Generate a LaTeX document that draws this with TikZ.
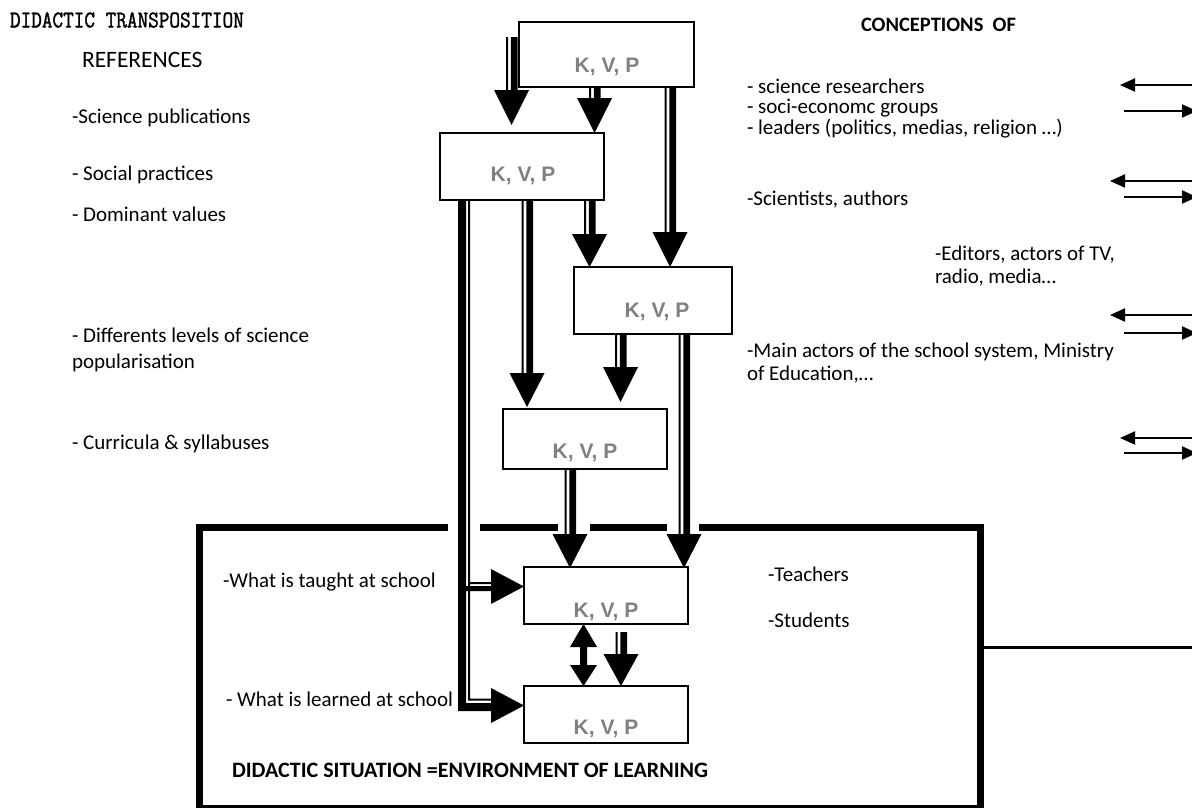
\documentclass[tikz,border=0pt]{standalone}
\usepackage{fontspec}
\setmainfont{Carlito}
\newfontfamily\kvpfont{Liberation Sans}
\newfontfamily\monob[FakeBold=1.4,FakeStretch=0.86]{Latin Modern Mono}
\usetikzlibrary{arrows.meta,calc}
\definecolor{kvpgray}{RGB}{128,128,128}
% striped down arrow: #1 start, #2 tip, #3 head length
\newcommand\sdown[3]{%
  \fill let \p1=(#1), \p2=(#2) in
    (\x2-5.5pt,\y1) rectangle (\x2-3.5pt,\y2+#3pt)
    (\x2-0.7pt,\y1) rectangle (\x2+6pt,\y2+#3pt)
    (\x2-17.5pt,\y2+#3pt) -- (\x2+17.5pt,\y2+#3pt) -- (\x2,\y2) -- cycle;}
\begin{document}
\begin{tikzpicture}[x=1pt,y=-1pt,
  every node/.style={inner sep=0pt,outer sep=0pt},
  body/.style={font=\fontsize{21}{24}\selectfont, anchor=west, align=left},
  hdr/.style={font=\fontsize{21}{24}\selectfont\bfseries, anchor=west},
  box/.style={draw, line width=1.8pt, fill=white},
  kvp/.style={font=\kvpfont\fontsize{21}{24}\selectfont\bfseries, text=kvpgray},
  frame/.style={line width=7pt},
  rarr/.style={line width=2pt, -{Triangle[length=15pt,width=13pt]}}
]
\useasboundingbox (0,0) rectangle (1192,807);

% frame of the didactic situation
\draw[frame] (199.5,524) -- (199.5,812);
\draw[frame] (980.5,524) -- (980.5,812);
\draw[frame] (196,808) -- (984,808);
\draw[frame] (196,527.5) -- (448,527.5);
\draw[frame] (480,527.5) -- (558,527.5);
\draw[frame] (590,527.5) -- (667,527.5);
\draw[frame] (699,527.5) -- (984,527.5);
\draw[line width=3pt] (984,647) -- (1192,647);

% boxes
\node[box, minimum width=175pt, minimum height=65pt] (b1) at (606.5,54.5) {};
\node[box, minimum width=164pt, minimum height=67pt] (b2) at (522,166.5) {};
\node[box, minimum width=158pt, minimum height=67pt] (b3) at (653,300.5) {};
\node[box, minimum width=164pt, minimum height=60pt] (b4) at (585,439) {};
\node[box, minimum width=164pt, minimum height=57pt] (b5) at (606,595.5) {};
\node[box, minimum width=164pt, minimum height=57pt] (b6) at (606,714.5) {};
\node[kvp] (k1) at (607,67) {K, V, P};
\node[kvp] (k2) at (523,176) {K, V, P};
\node[kvp] (k3) at (657,312) {K, V, P};
\node[kvp] (k4) at (585,453) {K, V, P};
\node[kvp] (k5) at (606,612) {K, V, P};
\node[kvp] (k6) at (606,729) {K, V, P};

% striped arrows
\coordinate (a0) at (511.5,37);
\coordinate (a0t) at (511.5,125);
\sdown{a0}{a0t}{35}
\sdown{b1.south}{594.5,0 |- b2.north}{35}
\sdown{b1.south}{670,0 |- b3.north}{35}
\sdown{b2.south}{589.5,0 |- b3.north}{33}
\coordinate (e0) at (527,407);
\sdown{b2.south}{e0}{34}
\coordinate (f0) at (620.5,402);
\sdown{b3.south}{f0}{35}
\coordinate (g0) at (684,568);
\sdown{b3.south}{g0}{34}
\coordinate (h0) at (570,568);
\sdown{b4.south}{h0}{34}
\coordinate (i0) at (621,632);
\sdown{i0}{621,0 |- b6.north}{32}

% long left arrow with two branches
\fill let \p1=(b2.south), \p2=(b5.west), \p3=(b6.west) in
  (458,\y1) rectangle (466,711)
  (468,\y1) rectangle (470,700.5)
  (462,586) rectangle (492,591)
  (468,582) rectangle (492,584)
  (458,703) rectangle (492,711)
  (468,698.5) rectangle (492,700.5)
  (491,569) -- (491,604) -- (\x2,586.5) -- cycle
  (491,688) -- (491,723) -- (\x3,705.5) -- cycle;

% double arrow between b5 and b6
\fill let \p1=(b5.south), \p2=(b6.north) in
  (583.5,\y1) -- (597,647) -- (587,647) -- (587,665) -- (597,665)
  -- (583.5,\y2) -- (570,665) -- (580,665) -- (580,647) -- (570,647) -- cycle;

% right-hand exchange arrows
\coordinate (r1a) at (1200,85);  \coordinate (r1b) at (1120,85);
\coordinate (r1c) at (1124,111); \coordinate (r1d) at (1197,111);
\coordinate (r2a) at (1200,181); \coordinate (r2b) at (1110,181);
\coordinate (r2c) at (1124,197); \coordinate (r2d) at (1197,197);
\coordinate (r3a) at (1200,315); \coordinate (r3b) at (1110,315);
\coordinate (r3c) at (1124,333); \coordinate (r3d) at (1197,333);
\coordinate (r4a) at (1200,438); \coordinate (r4b) at (1120,438);
\coordinate (r4c) at (1124,453); \coordinate (r4d) at (1197,453);
\foreach \i in {1,2,3,4}{
  \draw[rarr] (r\i a) -- (r\i b);
  \draw[rarr] (r\i c) -- (r\i d);
}

% texts
\node[anchor=west, font=\monob\fontsize{24}{26}\selectfont] (t0) at (10,20) {DIDACTIC TRANSPOSITION};
\node[body, font=\fontsize{23.5}{26}\selectfont] (t1) at (82,60) {REFERENCES};
\node[body] (t2) at (72,118) {-Science publications};
\node[body] (t3) at (72,175) {- Social practices};
\node[body] (t4) at (72,214) {- Dominant values};
\node[body, font=\fontsize{21}{26}\selectfont] (t5) at (72,350) {- Differents levels of science\\popularisation};
\node[body] (t6) at (72,444) {- Curricula \& syllabuses};
\node[hdr, font=\fontsize{20.5}{24}\selectfont\bfseries] (t7) at (861,25) {CONCEPTIONS~~OF};
\node[body] (t8) at (747,86) {- science researchers};
\node[body] (t9) at (747,108) {- soci-economc groups};
\node[body] (t10) at (747,129) {- leaders (politics, medias, religion …)};
\node[body] (t11) at (747,200) {-Scientists, authors};
\node[body, font=\fontsize{21}{23}\selectfont] (t12) at (935,266.5) {-Editors, actors of TV,\\radio, media…};
\node[body, font=\fontsize{21}{23}\selectfont] (t13) at (747,363.5) {-Main actors of the school system, Ministry\\of Education,…};
\node[body] (t14) at (223,582) {-What is taught at school};
\node[body] (t15) at (226,699) {- What is learned at school};
\node[hdr, font=\fontsize{22}{24}\selectfont\bfseries] (t16) at (232,770) {DIDACTIC SITUATION =ENVIRONMENT OF LEARNING};
\node[body] (t17) at (768,574) {-Teachers};
\node[body] (t18) at (768,620) {-Students};
\end{tikzpicture}
\end{document}
